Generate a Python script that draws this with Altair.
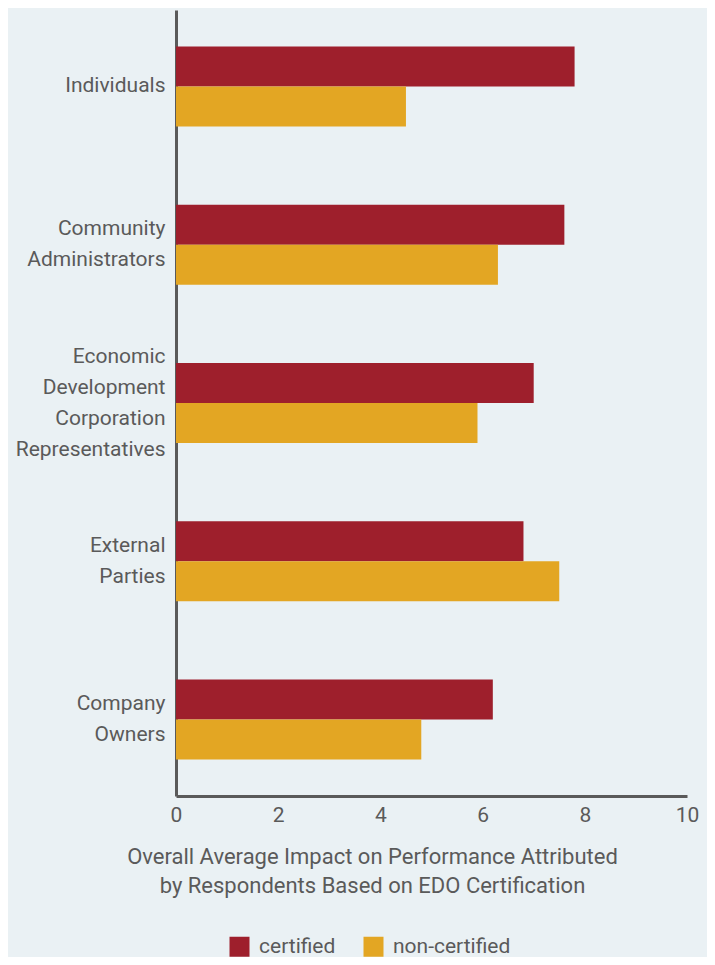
import altair as alt
import pandas as pd

categories = ["Individuals", "Community|Administrators",
              "Economic|Development|Corporation|Representatives",
              "External|Parties", "Company|Owners"]
certified = [7.8, 7.6, 7.0, 6.8, 6.2]
non_certified = [4.5, 6.3, 5.9, 7.5, 4.8]
series = ["certified", "non-certified"]
colors = ["#9e1f2c", "#e3a623"]

rows = []
for c, a, b in zip(categories, certified, non_certified):
    rows.append({"group": c, "series": series[0], "value": a})
    rows.append({"group": c, "series": series[1], "value": b})
df = pd.DataFrame(rows)

font = "Roboto"
grey = "#5a5a5a"
fs = 21

chart = alt.Chart(df).mark_bar().encode(
    y=alt.Y("group:N", sort=categories,
            scale=alt.Scale(paddingInner=0.494, paddingOuter=0.23),
            axis=alt.Axis(title=None, labelExpr="split(datum.label, '|')",
                          labelFontSize=fs, labelColor=grey, labelFont=font,
                          labelLineHeight=31, labelPadding=11, ticks=False,
                          labelBaseline="middle",
                          labelOffset=alt.ExprRef(expr="-15.5*(length(split(datum.value, '|'))-1)"),
                          domainColor="#5a5a5a", domainWidth=3, labelLimit=300)),
    yOffset=alt.YOffset("series:N", sort=series),
    x=alt.X("value:Q", scale=alt.Scale(domain=[0, 10], nice=False),
            axis=alt.Axis(values=[0, 2, 4, 6, 8, 10], grid=False, ticks=False,
                          labelFontSize=fs, labelColor=grey, labelFont=font,
                          labelFlush=False, labelBound=False,
                          labelPadding=8, domainColor="#5a5a5a", domainWidth=3,
                          title=["Overall Average Impact on Performance Attributed",
                                 "by Respondents Based on EDO Certification"],
                          titleFont=font, titleFontSize=22, titleFontWeight="normal",
                          titleColor=grey, titleLineHeight=29, titleX=196,
                          titleAlign="center", titleY=50, titleBaseline="top")),
    color=alt.Color("series:N", sort=series,
                    scale=alt.Scale(domain=series, range=colors),
                    legend=alt.Legend(title=None, orient="none", direction="horizontal",
                                      legendX=53, legendY=926, symbolType="square",
                                      symbolSize=400, symbolStrokeWidth=0,
                                      labelFontSize=fs, labelFont=font, labelColor=grey,
                                      labelOffset=9, columnPadding=27)),
).properties(
    width=511, height=786,
    padding={"left": 168, "top": 2, "right": 20, "bottom": 161},
    autosize=alt.AutoSizeParams(type="none"),
    background="#eaf1f4",
).configure_view(stroke=None)

chart.save("out.html", embed_options={"renderer": "svg", "actions": False})
